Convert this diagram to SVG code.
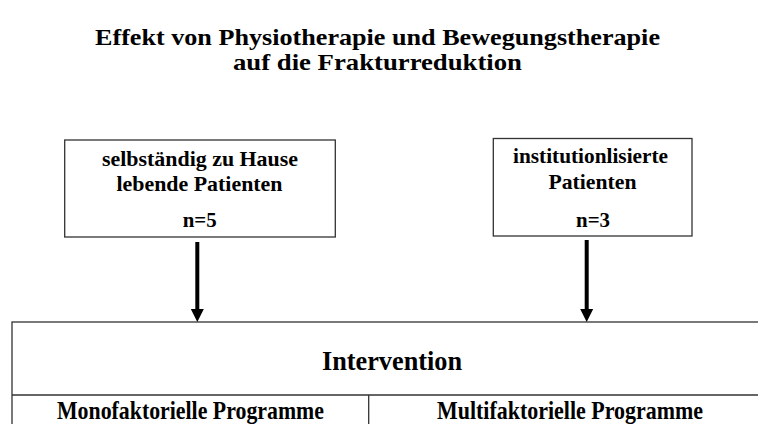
<svg xmlns="http://www.w3.org/2000/svg" width="758" height="424" viewBox="0 0 758 424">
<style>
text{font-family:"Liberation Serif","Times New Roman",serif;font-weight:bold;fill:#000;text-anchor:middle}
.t{font-size:23px}
.b{font-size:21px}
.i{font-size:28px}
.p{font-size:25px}
.box{fill:#fff;stroke:#333;stroke-width:1.3}
.ln{stroke:#333;stroke-width:1.3;fill:none}
.ar{stroke:#000;stroke-width:4;fill:none}
</style>
<rect width="758" height="424" fill="#fff"/>
<g id="title">
<text class="t" x="377.5" y="45" textLength="565" lengthAdjust="spacingAndGlyphs">Effekt von Physiotherapie und Bewegungstherapie</text>
<text class="t" x="377.5" y="70" textLength="289" lengthAdjust="spacingAndGlyphs">auf die Frakturreduktion</text>
</g>
<g id="node-home">
<rect class="box" x="64.7" y="140" width="270.6" height="97"/>
<text class="b" x="200" y="166" textLength="196" lengthAdjust="spacingAndGlyphs">selbständig zu Hause</text>
<text class="b" x="199.5" y="191" textLength="166" lengthAdjust="spacingAndGlyphs">lebende Patienten</text>
<text class="b" x="199.7" y="226.5" textLength="34" lengthAdjust="spacingAndGlyphs">n=5</text>
</g>
<g id="node-inst">
<rect class="box" x="493.3" y="138.5" width="198.7" height="97.5"/>
<text class="b" x="590.5" y="163" textLength="155" lengthAdjust="spacingAndGlyphs">institutionlisierte</text>
<text class="b" x="592.5" y="188.5" textLength="88" lengthAdjust="spacingAndGlyphs">Patienten</text>
<text class="b" x="593" y="226.5" textLength="34" lengthAdjust="spacingAndGlyphs">n=3</text>
</g>
<g id="node-intervention">
<rect class="box" x="12" y="322" width="760" height="120"/>
<line class="ln" x1="12" y1="395" x2="772" y2="395"/>
<line class="ln" x1="368.7" y1="395" x2="368.7" y2="424"/>
<text class="i" x="392" y="370" textLength="140" lengthAdjust="spacingAndGlyphs">Intervention</text>
<text class="p" x="190.5" y="419" textLength="267" lengthAdjust="spacingAndGlyphs">Monofaktorielle Programme</text>
<text class="p" x="570" y="419" textLength="266" lengthAdjust="spacingAndGlyphs">Multifaktorielle Programme</text>
</g>
<g id="connectors">
<line class="ar" x1="197.3" y1="242" x2="197.3" y2="310"/>
<polygon points="190.8,309 203.8,309 197.3,322"/>
<line class="ar" x1="586.7" y1="240" x2="586.7" y2="310"/>
<polygon points="580.2,309 593.2,309 586.7,322"/>
</g>
</svg>
